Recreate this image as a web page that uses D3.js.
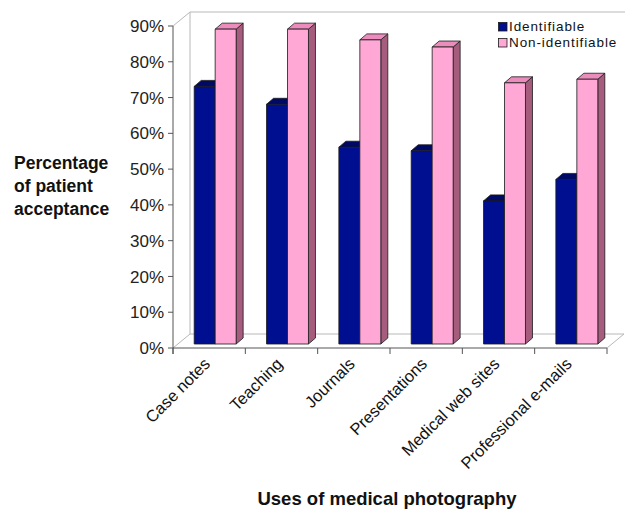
<!DOCTYPE html>
<html><head><meta charset="utf-8">
<script src="https://cdn.jsdelivr.net/npm/d3@7"></script>
<style>
html,body{margin:0;padding:0;background:#fff;}
svg{display:block;font-family:"Liberation Sans",Arial,sans-serif;}
</style></head>
<body><svg id="c" width="625" height="509"></svg>
<script>
const categories = ["Case notes","Teaching","Journals","Presentations","Medical web sites","Professional e-mails"];
const identifiable = [72, 67, 55, 54, 40, 46];
const nonIdentifiable = [88, 88, 85, 83, 73, 74];
const seriesNames = ["Identifiable","Non-identifiable"];
const yTicks = [0,10,20,30,40,50,60,70,80,90];

const svg = d3.select("#c");
const x0 = 173, x1 = 607, yBase = 348, yTop = 26;
const depth = {dx:17, dy:-14};
const barShift = {dx:6, dy:-4};
const barDepth = {dx:7, dy:-6};

const x = d3.scaleBand().domain(categories).range([x0,x1]).paddingInner(0.42).paddingOuter(0.21);
const xs = d3.scaleBand().domain(seriesNames).range([0,x.bandwidth()]);
const y = d3.scaleLinear().domain([0,90]).range([yBase,yTop]);

const grid = "#b8b8b8";
// back wall
svg.append("path").attr("d",`M${x0+depth.dx},${yBase+depth.dy}V${yTop+depth.dy}H${x1+depth.dx+2}`)
  .attr("fill","none").attr("stroke",grid);
// left wall top diagonal
svg.append("line").attr("x1",x0).attr("y1",yTop).attr("x2",x0+depth.dx).attr("y2",yTop+depth.dy).attr("stroke",grid);
// floor
svg.append("path").attr("d",`M${x0},${yBase}L${x0+depth.dx},${yBase+depth.dy}H${x1+depth.dx}L${x1},${yBase}`)
  .attr("fill","none").attr("stroke",grid);

// bars
const series = [
  {name:seriesNames[0], values:identifiable, front:"#000f8f", top:"#000a66", side:"#00085a"},
  {name:seriesNames[1], values:nonIdentifiable, front:"#ffa8d6", top:"#ec8cbc", side:"#a65c7c"}
];
const g = svg.append("g").attr("stroke","#1a1a1a").attr("stroke-width",0.8).attr("stroke-linejoin","round");
categories.forEach((c,i)=>{
  series.forEach(s=>{
    const v = s.values[i];
    const bx = x(c) + xs(s.name) + barShift.dx;
    const bw = xs.bandwidth();
    const yb = y(0) + barShift.dy, yt = y(v) + barShift.dy;
    const dx = barDepth.dx, dy = barDepth.dy;
    // side
    g.append("path").attr("fill",s.side)
      .attr("d",`M${bx+bw},${yb}L${bx+bw+dx},${yb+dy}L${bx+bw+dx},${yt+dy}L${bx+bw},${yt}Z`);
    // top
    g.append("path").attr("fill",s.top)
      .attr("d",`M${bx},${yt}L${bx+dx},${yt+dy}L${bx+bw+dx},${yt+dy}L${bx+bw},${yt}Z`);
    // front
    g.append("rect").attr("x",bx).attr("y",yt).attr("width",bw).attr("height",yb-yt).attr("fill",s.front);
  });
});

// y axis
const axisCol = "#555";
svg.append("line").attr("x1",x0).attr("x2",x0).attr("y1",yTop).attr("y2",yBase+6).attr("stroke",axisCol);
yTicks.forEach(t=>{
  svg.append("line").attr("x1",x0-5).attr("x2",x0).attr("y1",y(t)).attr("y2",y(t)).attr("stroke",axisCol);
  svg.append("text").attr("x",x0-9).attr("y",y(t)).attr("dy","0.36em").attr("text-anchor","end")
    .attr("font-size",17).attr("fill","#222").text(t+"%");
});
// x axis
svg.append("line").attr("x1",x0).attr("x2",x1).attr("y1",yBase).attr("y2",yBase).attr("stroke",axisCol);
const step = x.step();
d3.range(categories.length+1).forEach(k=>{
  const xx = x0 + k*step;
  svg.append("line").attr("x1",xx).attr("x2",xx).attr("y1",yBase).attr("y2",yBase+6).attr("stroke",axisCol);
});
categories.forEach((c,i)=>{
  const cx = x0 + (i+0.5)*step + 2;
  svg.append("text").attr("transform",`translate(${cx},365) rotate(-45)`).attr("text-anchor","end")
    .attr("font-size",16.5).attr("fill","#111").text(c);
});

// titles
svg.append("text").attr("x",387).attr("y",505).attr("text-anchor","middle").attr("font-weight","bold")
  .attr("font-size",18.5).attr("fill","#111").text("Uses of medical photography");
const yt = svg.append("text").attr("font-weight","bold").attr("font-size",17.5).attr("fill","#111");
["Percentage","of patient","acceptance"].forEach((l,i)=>{
  yt.append("tspan").attr("x",14).attr("y",169+i*23).text(l);
});

// legend
const leg = svg.append("g");
series.forEach((s,i)=>{
  leg.append("rect").attr("x",498.5).attr("y",22.5+i*16).attr("width",8.5).attr("height",8.5)
    .attr("fill",s.front).attr("stroke","#1a1a1a").attr("stroke-width",0.8);
  leg.append("text").attr("x",509).attr("y",31+i*15.5).attr("font-size",13.5).attr("letter-spacing","0.9px")
    .attr("fill","#111").text(s.name);
});
</script></body></html>
